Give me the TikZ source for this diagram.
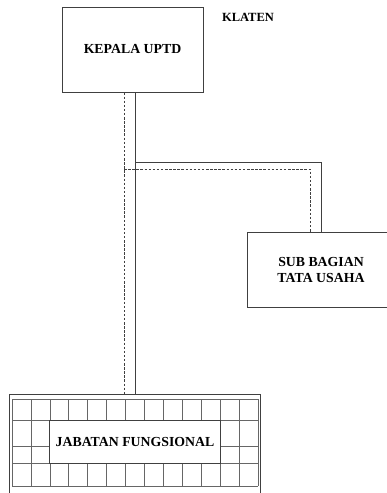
\documentclass[tikz,border=0pt]{standalone}
\usepackage{xcolor}
\usepackage{fontspec}
\setmainfont{Liberation Serif}
\usepackage{tikz}

\tikzset{
    box/.style={draw=black!75, line width=0.9pt, inner sep=0pt, align=center,
        font=\bfseries\fontsize{13.8}{16}\selectfont},
    conn/.style={draw=black!75, line width=0.9pt},
    dconn/.style={draw=black!75, line width=0.9pt, dash pattern=on 2.5pt off 1.6pt},
    gridline/.style={draw=black!60, line width=0.6pt}
}

\begin{document}
\begin{tikzpicture}[x=1pt, y=-1pt]
    \useasboundingbox (0,0) rectangle (387,493);

    \node[box, minimum width=141, minimum height=85] at (132.5, 49.5) (kepala) {KEPALA UPTD};
    \node[font=\bfseries\fontsize{12.5}{14}\selectfont] at (248, 17) (klaten) {KLATEN};

    \node[box, minimum width=148, minimum height=75] at (321, 269.5) (sub) {SUB BAGIAN\\TATA USAHA};

    % frame round the grid, its bottom lies below the page
    \node[draw=black!75, line width=0.8pt, minimum width=251, minimum height=120, inner sep=0pt]
        at (134.5, 454) (frame) {};
    \foreach \i in {0,...,13}
        \draw[gridline] (12+\i*18.923, 399) -- (12+\i*18.923, 486);
    \foreach \y in {399, 420, 446, 463, 486}
        \draw[gridline] (12, \y) -- (258, \y);
    \node[box, fill=white, minimum width=170.3, minimum height=43] at (135, 441.5) (jf) {JABATAN FUNGSIONAL};

    \coordinate (fork) at (135, 162);
    \coordinate (forkd) at (124, 169);

    \draw[conn] (kepala.south -| fork) -- (frame.north -| fork);
    \draw[conn] (fork) -| (sub.north -| 321, 0);
    \draw[dconn] (kepala.south -| forkd) -- (frame.north -| forkd);
    \draw[dconn] (forkd) -| (sub.north -| 310, 0);
\end{tikzpicture}
\end{document}
